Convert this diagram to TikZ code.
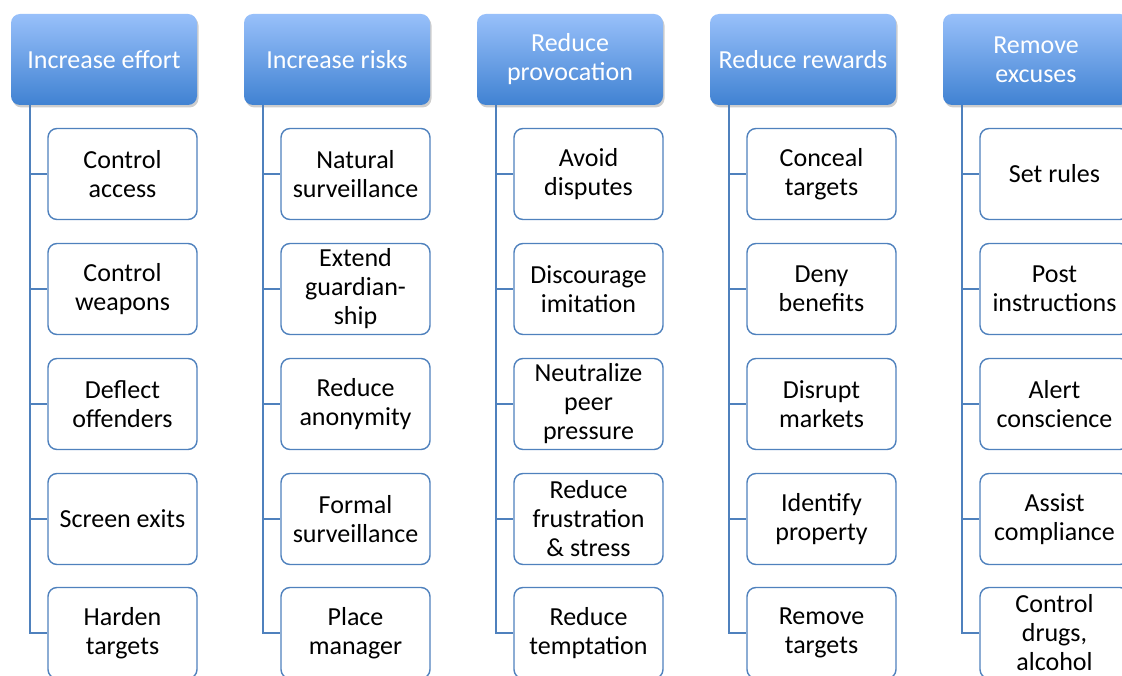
\documentclass[tikz,border=0pt]{standalone}
\usepackage{fontspec}
\setmainfont{Carlito}
\usetikzlibrary{shadows}
\definecolor{edgeblue}{RGB}{79,129,189}
\definecolor{hdtop}{RGB}{152,192,250}
\definecolor{hdbot}{RGB}{64,130,210}
\tikzset{
  header/.style={rounded corners=9pt, top color=hdtop, bottom color=hdbot, draw=none,
    minimum width=186pt, minimum height=91pt, inner sep=0pt, text=white, align=center,
    font=\fontsize{26}{29}\selectfont,
    drop shadow={shadow xshift=1.5pt, shadow yshift=-2.5pt, opacity=0.28, fill=black!70}},
  item/.style={rounded corners=9pt, draw=edgeblue, line width=1.4pt, fill=white,
    minimum width=149pt, minimum height=91pt, inner sep=0pt, text=black, align=center,
    font=\fontsize{26}{29}\selectfont},
  conn/.style={draw=edgeblue, line width=1.4pt}
}
\begin{document}
\begin{tikzpicture}[x=1pt,y=-1pt]
\useasboundingbox (0,0) rectangle (1122,676);
\clip (0,0) rectangle (1122,676);
\def\colitems{%
  {Increase effort}/{Control\\access}/{Control\\weapons}/{Deflect\\offenders}/{Screen exits}/{Harden\\targets},
  {Increase risks}/{Natural\\surveillance}/{Extend\\guardian-\\ship}/{Reduce\\anonymity}/{Formal\\surveillance}/{Place\\manager},
  {Reduce\\provocation}/{Avoid\\disputes}/{Discourage\\imitation}/{Neutralize\\peer\\pressure}/{Reduce\\frustration\\\& stress}/{Reduce\\temptation},
  {Reduce rewards}/{Conceal\\targets}/{Deny\\benefits}/{Disrupt\\markets}/{Identify\\property}/{Remove\\targets},
  {Remove\\excuses}/{Set rules}/{Post\\instructions}/{Alert\\conscience}/{Assist\\compliance}/{Control\\drugs,\\alcohol}}
\foreach [count=\c] \h/\a/\b/\d/\e/\f in \colitems {
  \pgfmathsetmacro{\hx}{104+233*(\c-1)}
  \pgfmathsetmacro{\ix}{122.5+233*(\c-1)}
  \node[header] (h\c) at (\hx,59.5) {\h};
  \node[item] (c\c a) at (\ix,174) {\a};
  \node[item] (c\c b) at (\ix,289) {\b};
  \node[item] (c\c c) at (\ix,404) {\d};
  \node[item] (c\c d) at (\ix,519) {\e};
  \node[item] (c\c e) at (\ix,633) {\f};
  \coordinate (t\c) at ([xshift=19pt]h\c.south west);
  \draw[conn] (t\c) |- (c\c e.west);
  \foreach \k in {a,b,c,d} {
    \draw[conn] (t\c |- c\c\k.west) -- (c\c\k.west);
  }
}
\end{tikzpicture}
\end{document}
